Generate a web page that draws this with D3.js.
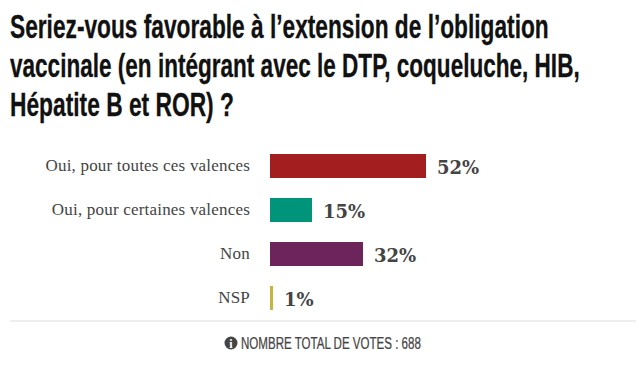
<!DOCTYPE html>
<html>
<head>
<meta charset="utf-8">
<script src="https://cdn.jsdelivr.net/npm/d3@7"></script>
<style>
html, body { margin: 0; padding: 0; background: #fff; }
svg { display: block; }
</style>
</head>
<body>
<svg id="chart" width="639" height="375"></svg>
<script>
const titleLines = ["Seriez-vous favorable à l’extension de l’obligation", "vaccinale (en intégrant avec le DTP, coqueluche, HIB,", "Hépatite B et ROR) ?"];
const titleWidths = [539, 570, 224];
const categories = ["Oui, pour toutes ces valences", "Oui, pour certaines valences", "Non", "NSP"];
const labels = ["52%", "15%", "32%", "1%"];
// bar lengths, they run a little short of the printed labels
const barValues = [52, 14, 31, 1];
const barColors = ["#a21e1f", "#00957a", "#6b255a", "#c4b73b"];
const footer = "NOMBRE TOTAL DE VOTES : 688";

const svg = d3.select("#chart");

const x = d3.scaleLinear().domain([0, 52]).range([270, 426]);
const y = d3.scaleBand().domain(categories).range([154, 310]).paddingInner(20 / 44).paddingOuter(0).align(0);

// no condensed font here, so squeeze the text sideways to the wanted width
function squeeze(node, left, baseline, width) {
    let natural = node.getComputedTextLength();
    d3.select(node).attr("transform", `translate(${left},${baseline}) scale(${width / natural},1)`);
}

svg.selectAll(".title").data(titleLines).enter().append("text")
    .attr("class", "title")
    .attr("font-family", "'Liberation Sans', sans-serif")
    .attr("font-weight", "bold")
    .attr("font-size", 33)
    .attr("fill", "#111")
    .attr("stroke", "#111")
    .attr("stroke-width", 0.3)
    .text(d => d)
    .each(function(d, i) { squeeze(this, 10, 38 + i * 39, titleWidths[i]); });

svg.selectAll(".bar").data(categories).enter().append("rect")
    .attr("class", "bar")
    .attr("x", x(0))
    .attr("y", d => y(d))
    .attr("width", (d, i) => x(barValues[i]) - x(0))
    .attr("height", y.bandwidth())
    .attr("fill", (d, i) => barColors[i]);

svg.selectAll(".cat").data(categories).enter().append("text")
    .attr("class", "cat")
    .attr("x", 250)
    .attr("y", d => y(d) + y.bandwidth() / 2 + 5)
    .attr("text-anchor", "end")
    .attr("font-family", "'Liberation Serif', serif")
    .attr("font-size", 17)
    .attr("letter-spacing", 0.2)
    .attr("fill", "#444")
    .text(d => d);

svg.selectAll(".val").data(categories).enter().append("text")
    .attr("class", "val")
    .attr("x", (d, i) => x(barValues[i]) + 11)
    .attr("y", d => y(d) + y.bandwidth() / 2 + 8)
    .attr("font-family", "'DejaVu Serif', serif")
    .attr("font-weight", "bold")
    .attr("font-size", 18)
    .attr("fill", "#444")
    .text((d, i) => labels[i]);

svg.append("line")
    .attr("x1", 10).attr("x2", 636)
    .attr("y1", 321).attr("y2", 321)
    .attr("stroke", "#eee")
    .attr("stroke-width", 2);

const info = svg.append("g").attr("transform", "translate(231,343)");
info.append("circle").attr("r", 6.5).attr("fill", "#444");
info.append("text")
    .attr("y", 4.5)
    .attr("text-anchor", "middle")
    .attr("font-family", "'Liberation Serif', serif")
    .attr("font-weight", "bold")
    .attr("font-size", 12)
    .attr("fill", "#fff")
    .text("i");

svg.append("text")
    .attr("font-family", "'Liberation Sans', sans-serif")
    .attr("font-size", 16.5)
    .attr("stroke", "#444")
    .attr("stroke-width", 0.25)
    .attr("fill", "#444")
    .text(footer)
    .each(function() { squeeze(this, 241, 348.5, 180); });
</script>
</body>
</html>
